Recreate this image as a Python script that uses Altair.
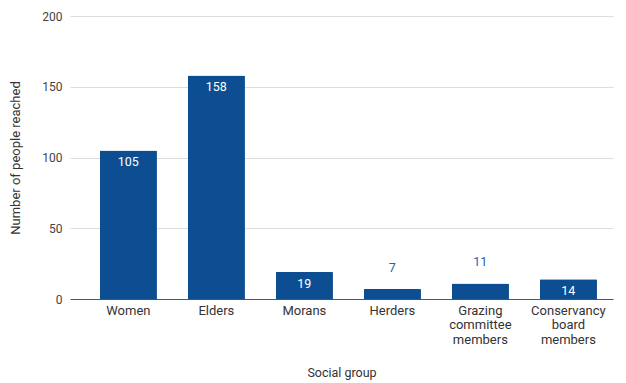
import altair as alt
import pandas as pd

groups = ["Women", "Elders", "Morans", "Herders", "Grazing\ncommittee\nmembers", "Conservancy\nboard\nmembers"]
people = [105, 158, 19, 7, 11, 14]

df = pd.DataFrame({"group": groups, "people": people})

BAR = "#0d4e93"
FONT = "Roboto"

x_enc = alt.X(
    "group:N",
    sort=groups,
    title="Social group",
    scale=alt.Scale(paddingInner=0.35, paddingOuter=0.26, align=0.65),
    axis=alt.Axis(
        labelAngle=0,
        labelExpr="split(datum.label, '\\n')",
        labelFont=FONT,
        labelFontSize=13,
        labelColor="#333333",
        labelLineHeight=14.5,
        labelPadding=5,
        labelBaseline="top",
        ticks=False,
        domainColor="#555555",
        domainWidth=1,
        titleFont=FONT,
        titleFontSize=12.5,
        titleFontWeight="normal",
        titleColor="#333333",
        titlePadding=20,
        grid=False,
    ),
)

y_enc = alt.Y(
    "people:Q",
    title="Number of people reached",
    scale=alt.Scale(domain=[0, 200], nice=False),
    axis=alt.Axis(
        values=[0, 50, 100, 150, 200],
        labelFont=FONT,
        labelFontSize=12,
        labelColor="#444444",
        labelPadding=8,
        ticks=False,
        domain=False,
        gridColor="#dddddd",
        titleFont=FONT,
        titleFontSize=13,
        titleFontWeight="normal",
        titleColor="#333333",
        titlePadding=19,
    ),
)

base = alt.Chart(df)

bars = base.mark_bar(color=BAR, cornerRadiusTopLeft=1, cornerRadiusTopRight=1).encode(x=x_enc, y=y_enc)

inside = base.transform_filter("datum.people >= 14").mark_text(
    color="white", font=FONT, fontSize=12.5, fontWeight="normal", baseline="middle", dy=12
).encode(x=alt.X("group:N", sort=groups), y="people:Q", text="people:Q")

outside = base.transform_filter("datum.people < 14").mark_text(
    color="#2a5ea8", font=FONT, fontSize=12.5, fontWeight="normal", baseline="middle", dy=-21
).encode(x=alt.X("group:N", sort=groups), y="people:Q", text="people:Q")

chart = (
    alt.layer(bars, inside, outside)
    .properties(
        width=543,
        height=283,
        autosize=alt.AutoSizeParams(type="none"),
        padding={"left": 62, "top": 8, "right": 5, "bottom": 82},
    )
    .configure_view(stroke=None)
)

chart.save("out.html", embed_options={"renderer": "svg", "actions": False})
